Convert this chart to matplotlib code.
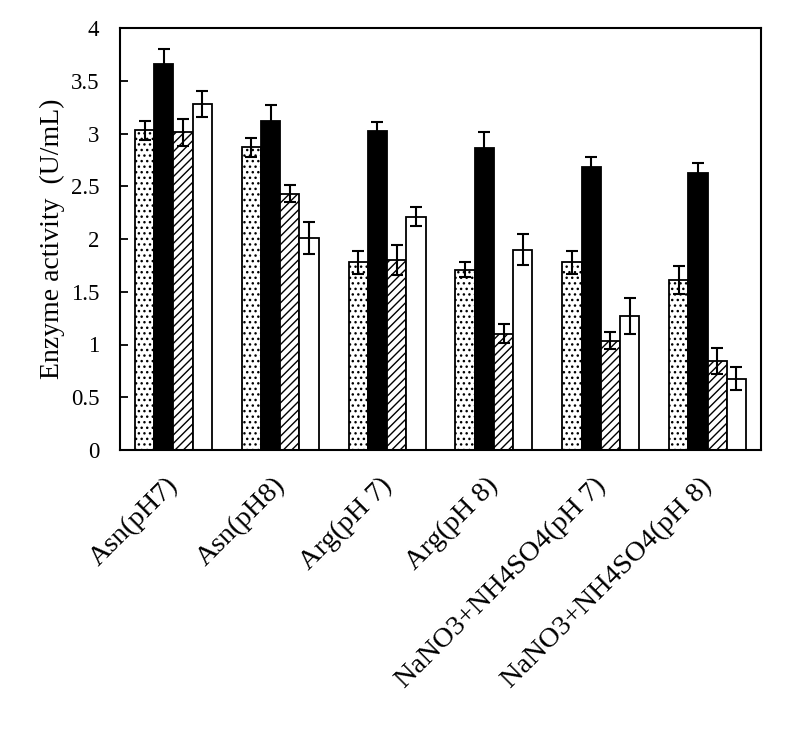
import matplotlib
matplotlib.use("Agg")
import matplotlib.pyplot as plt
import matplotlib.transforms as mtransforms
import numpy as np

plt.rcParams['font.family'] = ['Liberation Serif', 'DejaVu Serif']
plt.rcParams['hatch.linewidth'] = 1.0

categories = ["Asn(pH7)", "Asn(pH8)", "Arg(pH 7)", "Arg(pH 8)",
              "NaNO3+NH4SO4(pH 7)", "NaNO3+NH4SO4(pH 8)"]
s1 = [3.03, 2.87, 1.78, 1.71, 1.78, 1.61]
s1_err = [0.09, 0.09, 0.11, 0.07, 0.11, 0.13]
s2 = [3.66, 3.12, 3.02, 2.86, 2.68, 2.63]
s2_err = [0.145, 0.15, 0.09, 0.15, 0.095, 0.09]
s3 = [3.01, 2.43, 1.80, 1.10, 1.035, 0.845]
s3_err = [0.13, 0.08, 0.14, 0.09, 0.08, 0.12]
s4 = [3.28, 2.01, 2.21, 1.90, 1.27, 0.676]
s4_err = [0.12, 0.15, 0.09, 0.15, 0.17, 0.11]
yticks = [0, 0.5, 1, 1.5, 2, 2.5, 3, 3.5, 4]
ytick_labels = ["0", "0.5", "1", "1.5", "2", "2.5", "3", "3.5", "4"]

fig = plt.figure(figsize=(7.89, 7.29), dpi=100)
ax = fig.add_axes([120/789, 1-450/729, (761-120)/789, (450-28)/729])

x = np.arange(len(categories))
w = 0.18
series = [(s1, s1_err, 'white', '...'), (s2, s2_err, 'black', None),
          (s3, s3_err, 'white', '////'), (s4, s4_err, 'white', None)]
for i, (vals, errs, fc, hatch) in enumerate(series):
    pos = x + (i - 1.5) * w
    ax.bar(pos, vals, width=w, color=fc, edgecolor='black', hatch=hatch,
           linewidth=1.3, zorder=2)
    ax.errorbar(pos, vals, yerr=errs, fmt='none', ecolor='black',
                elinewidth=1.5, capsize=4, capthick=1.5, zorder=3)

ax.set_xlim(-0.5, len(categories) - 0.5)
ax.set_ylim(0, 4)
ax.set_yticks(yticks)
ax.set_yticklabels(ytick_labels, fontsize=16.5)
ax.set_xticks(x)
ax.set_xticklabels(categories, rotation=45, ha='right', rotation_mode='anchor',
                   fontsize=20.5)
ax.tick_params(axis='x', length=0, pad=18)
ax.tick_params(axis='y', direction='in', length=6, width=1.3, pad=15)
offset = mtransforms.ScaledTranslation(-8/100, 2/100, fig.dpi_scale_trans)
for lbl in ax.get_xticklabels():
    lbl.set_transform(lbl.get_transform() + offset)
for sp in ax.spines.values():
    sp.set_linewidth(1.5)
ax.set_ylabel("Enzyme activity  (U/mL)", fontsize=20, labelpad=4)

fig.savefig("out.png", dpi=100)
